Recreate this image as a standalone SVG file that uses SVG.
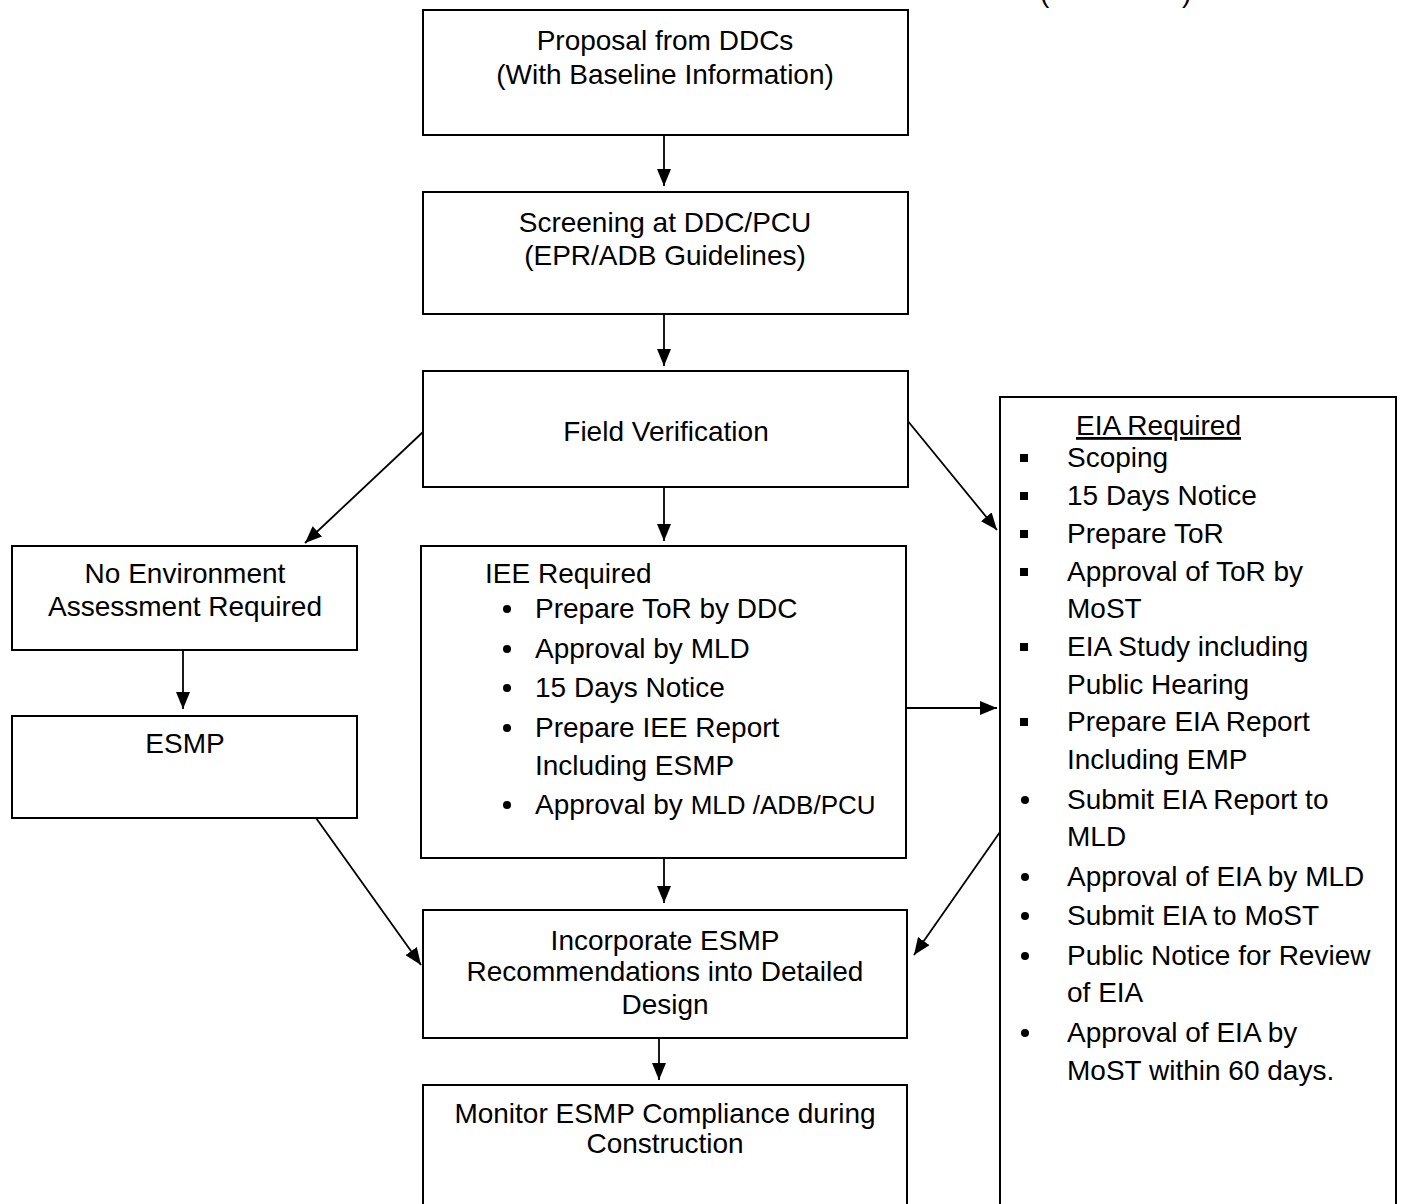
<svg xmlns="http://www.w3.org/2000/svg" width="1402" height="1204" viewBox="0 0 1402 1204">
  <style>
    .box { fill: #ffffff; stroke: #000000; stroke-width: 2; }
    .t { font-family: "Liberation Sans", Arial, sans-serif; font-size: 28px; fill: #000000; }
    .c { text-anchor: middle; }
    .small { font-size: 26px; }
    .edge { stroke: #000000; stroke-width: 1.8; fill: none; marker-end: url(#arrow); }
  </style>
  <defs>
    <marker id="arrow" markerUnits="userSpaceOnUse" markerWidth="17" markerHeight="14" refX="17" refY="7" orient="auto">
      <path d="M0,0 L17,7 L0,14 z" fill="#000000"/>
    </marker>
    <rect id="sq" x="-4" y="-4" width="8" height="8" fill="#000000"/>
    <circle id="dot" r="4" fill="#000000"/>
  </defs>

  <rect width="1402" height="1204" fill="#ffffff"/>

  <!-- heading fragment running off the top edge -->
  <text class="t" x="1040" y="2">(</text>
  <text class="t" x="1182" y="2">)</text>

  <!-- connectors -->
  <g id="connectors">
    <line class="edge" x1="664" y1="135" x2="664" y2="186"/>
    <line class="edge" x1="664" y1="314" x2="664" y2="366"/>
    <line class="edge" x1="423" y1="432" x2="305" y2="543"/>
    <line class="edge" x1="664" y1="487" x2="664" y2="541"/>
    <line class="edge" x1="907" y1="420" x2="997" y2="530"/>
    <line class="edge" x1="183" y1="650" x2="183" y2="709"/>
    <line class="edge" x1="906" y1="708" x2="997" y2="708"/>
    <line class="edge" x1="664" y1="858" x2="664" y2="903"/>
    <line class="edge" x1="316" y1="818" x2="421" y2="965"/>
    <line class="edge" x1="1000" y1="832" x2="914" y2="955"/>
    <line class="edge" x1="659" y1="1039" x2="659" y2="1080"/>
  </g>

  <g id="proposal">
    <rect class="box" x="423" y="10" width="485" height="125"/>
    <text class="t c" x="665" y="50">Proposal from DDCs</text>
    <text class="t c" x="665" y="84">(With Baseline Information)</text>
  </g>

  <g id="screening">
    <rect class="box" x="423" y="192" width="485" height="122"/>
    <text class="t c" x="665" y="232">Screening at DDC/PCU</text>
    <text class="t c" x="665" y="265">(EPR/ADB Guidelines)</text>
  </g>

  <g id="field-verification">
    <rect class="box" x="423" y="371" width="485" height="116"/>
    <text class="t c" x="666" y="441">Field Verification</text>
  </g>

  <g id="no-assessment">
    <rect class="box" x="12" y="546" width="345" height="104"/>
    <text class="t c" x="185" y="583">No Environment</text>
    <text class="t c" x="185" y="616">Assessment Required</text>
  </g>

  <g id="esmp">
    <rect class="box" x="12" y="716" width="345" height="102"/>
    <text class="t c" x="185" y="753">ESMP</text>
  </g>

  <g id="iee-required">
    <rect class="box" x="421" y="546" width="485" height="312"/>
    <text class="t" x="485" y="583">IEE Required</text>
    <use href="#dot" x="507" y="609"/>
    <text class="t" x="535" y="618">Prepare ToR by DDC</text>
    <use href="#dot" x="507" y="649"/>
    <text class="t" x="535" y="658">Approval by MLD</text>
    <use href="#dot" x="507" y="688"/>
    <text class="t" x="535" y="697">15 Days Notice</text>
    <use href="#dot" x="507" y="728"/>
    <text class="t" x="535" y="737">Prepare IEE Report</text>
    <text class="t" x="535" y="775">Including ESMP</text>
    <use href="#dot" x="507" y="805"/>
    <text class="t" x="535" y="814">Approval by <tspan class="small">MLD /ADB/PCU</tspan></text>
  </g>

  <g id="eia-required">
    <rect class="box" x="1000" y="397" width="396" height="820"/>
    <text class="t" x="1076" y="435" text-decoration="underline">EIA Required</text>
    <use href="#sq" x="1024" y="458"/>
    <text class="t" x="1067" y="467">Scoping</text>
    <use href="#sq" x="1024" y="496"/>
    <text class="t" x="1067" y="505">15 Days Notice</text>
    <use href="#sq" x="1024" y="534"/>
    <text class="t" x="1067" y="543">Prepare ToR</text>
    <use href="#sq" x="1024" y="572"/>
    <text class="t" x="1067" y="581">Approval of ToR by</text>
    <text class="t" x="1067" y="618">MoST</text>
    <use href="#sq" x="1024" y="647"/>
    <text class="t" x="1067" y="656">EIA Study including</text>
    <text class="t" x="1067" y="694">Public Hearing</text>
    <use href="#sq" x="1024" y="722"/>
    <text class="t" x="1067" y="731">Prepare EIA Report</text>
    <text class="t" x="1067" y="769">Including EMP</text>
    <use href="#dot" x="1025" y="800"/>
    <text class="t" x="1067" y="809">Submit EIA Report to</text>
    <text class="t" x="1067" y="846">MLD</text>
    <use href="#dot" x="1025" y="877"/>
    <text class="t" x="1067" y="886">Approval of EIA by MLD</text>
    <use href="#dot" x="1025" y="916"/>
    <text class="t" x="1067" y="925">Submit EIA to MoST</text>
    <use href="#dot" x="1025" y="956"/>
    <text class="t" x="1067" y="965">Public Notice for Review</text>
    <text class="t" x="1067" y="1002">of EIA</text>
    <use href="#dot" x="1025" y="1033"/>
    <text class="t" x="1067" y="1042">Approval of EIA by</text>
    <text class="t" x="1067" y="1080">MoST within 60 days.</text>
  </g>

  <g id="incorporate">
    <rect class="box" x="423" y="910" width="484" height="128"/>
    <text class="t c" x="665" y="950">Incorporate ESMP</text>
    <text class="t c" x="665" y="981">Recommendations into Detailed</text>
    <text class="t c" x="665" y="1014">Design</text>
  </g>

  <g id="monitor">
    <rect class="box" x="423" y="1085" width="484" height="130"/>
    <text class="t c" x="665" y="1123">Monitor ESMP Compliance during</text>
    <text class="t c" x="665" y="1153">Construction</text>
  </g>
</svg>
